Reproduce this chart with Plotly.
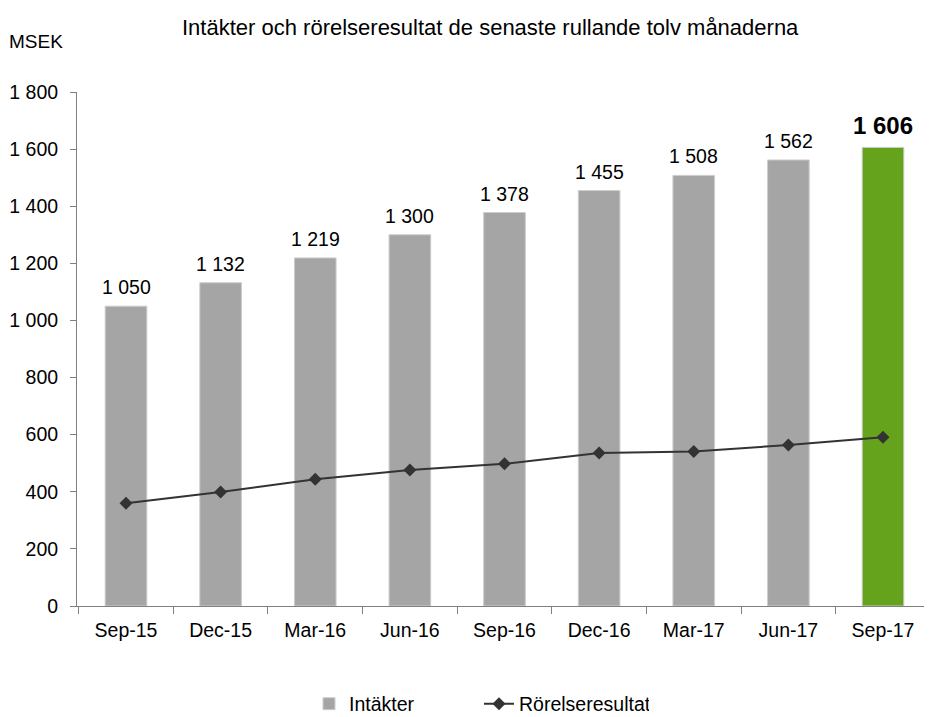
import plotly.graph_objects as go

categories = ["Sep-15", "Dec-15", "Mar-16", "Jun-16", "Sep-16", "Dec-16", "Mar-17", "Jun-17", "Sep-17"]
intakter = [1050, 1132, 1219, 1300, 1378, 1455, 1508, 1562, 1606]
rorelseresultat = [360, 399, 444, 476, 498, 536, 541, 564, 591]
y_ticks = [0, 200, 400, 600, 800, 1000, 1200, 1400, 1600, 1800]

FONT = "Liberation Sans, Arial, sans-serif"


def fmt(v):
    return f"{v:,}".replace(",", " ")


bar_colors = ["#a5a5a5"] * (len(categories) - 1) + ["#66a31c"]

fig = go.Figure()
fig.add_trace(go.Bar(
    x=categories, y=intakter, name="Intäkter",
    marker=dict(color=bar_colors, line=dict(color="#cdcdcd", width=1)),
    width=0.44, cliponaxis=False,
))
fig.add_trace(go.Scatter(
    x=categories, y=rorelseresultat, name="Rörelseresultat",
    mode="lines+markers",
    line=dict(color="#333333", width=2),
    marker=dict(symbol="diamond", size=10, color="#333333"),
))

# Value labels above bars, taken from the data
annotations = []
last = len(categories) - 1
for i, (c, v) in enumerate(zip(categories, intakter)):
    if i == last:
        annotations.append(dict(x=c, y=v, xref="x", yref="y", text="<b>" + fmt(v) + "</b>",
                                showarrow=False, yanchor="bottom", yshift=6,
                                font=dict(size=24, family=FONT, color="#000000")))
    else:
        annotations.append(dict(x=c, y=v, xref="x", yref="y", text=fmt(v),
                                showarrow=False, yanchor="bottom", yshift=6,
                                font=dict(size=19.5, family=FONT, color="#000000")))

# The page body has an 8px margin, so the figure is 8px smaller and shifted.
PAGE_OFF = 8
plot_left, plot_top, plot_bottom = 77, 92, 606
plot_w = 932 - plot_left
plot_h = plot_bottom - plot_top
annotations.append(dict(text="Intäkter och rörelseresultat de senaste rullande tolv månaderna",
                        xref="paper", yref="paper",
                        x=(490 - plot_left) / plot_w, y=(plot_bottom - 27) / plot_h,
                        xanchor="center", yanchor="middle", showarrow=False,
                        font=dict(size=22, family=FONT, color="#000000")))
annotations.append(dict(text="MSEK", xref="paper", yref="paper",
                        x=(7 - plot_left) / plot_w, y=(plot_bottom - 42) / plot_h,
                        xanchor="left", yanchor="middle", showarrow=False,
                        font=dict(size=19, family=FONT, color="#000000")))

fig.update_layout(
    width=932 - PAGE_OFF, height=717 - PAGE_OFF,
    margin=dict(l=plot_left - PAGE_OFF, r=0, t=plot_top - PAGE_OFF, b=717 - plot_bottom,
                autoexpand=False),
    paper_bgcolor="white", plot_bgcolor="white",
    font=dict(family=FONT, size=19.5, color="#000000"),
    showlegend=True,
    legend=dict(orientation="h", x=(309 - plot_left) / plot_w, xanchor="left",
                y=-(704 - plot_bottom) / plot_h, yanchor="middle",
                font=dict(size=19.5), traceorder="normal", entrywidth=125),
    annotations=annotations,
    xaxis=dict(
        showline=True, linecolor="#808080", linewidth=1,
        ticks="outside", ticklen=7, tickcolor="#808080",
        tickson="boundaries", showgrid=False, automargin=False,
        ticklabelstandoff=7,
    ),
    yaxis=dict(
        range=[0, 1800], tickvals=y_ticks, ticktext=[fmt(v) for v in y_ticks],
        showline=True, linecolor="#808080", linewidth=1,
        ticks="outside", ticklen=6, tickcolor="#808080",
        showgrid=False, zeroline=False, automargin=False,
        ticklabelstandoff=8,
    ),
    yaxis2=dict(
        overlaying="y", side="left", range=[0, 1800], tickvals=y_ticks,
        showticklabels=False, ticks="inside", ticklen=6, tickcolor="#808080",
        showgrid=False, zeroline=False, showline=False, automargin=False,
    ),
)

fig.write_html("out.html")
